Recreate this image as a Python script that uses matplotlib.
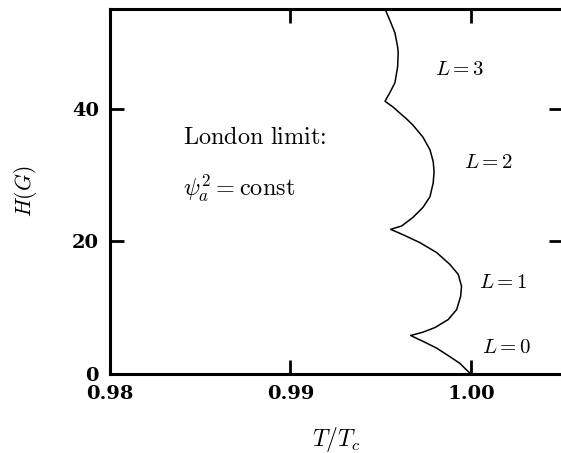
import matplotlib
matplotlib.use("Agg")
import matplotlib.pyplot as plt

plt.rcParams['mathtext.fontset'] = 'cm'

# Phase boundary T/Tc vs H, top to bottom
T_L3 = [0.99524, 0.99551, 0.99579, 0.99594, 0.99597, 0.99594, 0.99579, 0.99551, 0.99524]
H_L3 = [55.0, 53.3, 51.4, 49.3, 48.4, 46.3, 43.9, 42.4, 41.1]
T_L2 = [0.99570, 0.99607, 0.99645, 0.99679, 0.99734, 0.99773, 0.99791, 0.99796,
        0.99791, 0.99773, 0.99734, 0.99679, 0.99616, 0.99555]
H_L2 = [40.2, 39.3, 38.4, 37.5, 35.7, 33.8, 32.0, 30.5,
        28.8, 26.7, 25.1, 23.6, 22.3, 21.8]
T_L1 = [0.99623, 0.99717, 0.99810, 0.99884, 0.99930, 0.99948, 0.99943, 0.99921,
        0.99874, 0.99801, 0.99734, 0.99666]
H_L1 = [21.0, 19.8, 18.3, 16.5, 15.0, 13.2, 11.7, 9.7,
        8.2, 7.0, 6.3, 5.8]
T_L0 = [0.99736, 0.99810, 0.99884, 0.99939, 0.99976, 1.00000]
H_L0 = [4.9, 3.9, 2.6, 1.6, 0.6, 0.0]

x_ticks = [0.98, 0.99, 1.00]
x_ticklabels = ['0.98', '0.99', '1.00']
y_ticks = [0, 20, 40]
y_ticklabels = ['0', '20', '40']

labels = ['$L=3$', '$L=2$', '$L=1$', '$L=0$']
label_T = [0.99936, 1.0010, 1.00177, 1.0020]
label_H = [45.9, 31.9, 13.8, 4.1]

T_all = T_L3 + T_L2 + T_L1 + T_L0
H_all = H_L3 + H_L2 + H_L1 + H_L0

fig = plt.figure(figsize=(5.61, 4.53), dpi=100)
ax = fig.add_axes([0.196, 0.1744, 0.8075, 0.8057])
ax.plot(T_all, H_all, color='black', lw=1.1)

ax.set_xlim(0.98, 1.0051)
ax.set_ylim(0, 55)

tick_font = dict(family='DejaVu Serif', weight='bold', size=14)
ax.set_xticks(x_ticks)
ax.set_xticklabels(x_ticklabels, **tick_font)
ax.set_yticks(y_ticks)
ax.set_yticklabels(y_ticklabels, **tick_font)
ax.tick_params(direction='in', length=10, width=2, top=True, right=True, pad=8)
for sp in ax.spines.values():
    sp.set_linewidth(2.2)

ax.set_xlabel(r'$T/T_c$', fontsize=17, labelpad=16)
ax.set_ylabel(r'$H(G)$', fontsize=15.5, labelpad=24)

for lab, t, h in zip(labels, label_T, label_H):
    ax.text(t, h, lab, fontsize=15, ha='center', va='center')

ax.text(0.98405, 34.6, r'$\mathrm{London\ limit}\hspace{-0.22}:$', fontsize=17.5,
        ha='left', va='baseline')
ax.text(0.98405, 26.8, r'$\psi_a^2=\mathrm{const}$', fontsize=17.5, ha='left', va='baseline')

fig.savefig('out.png', dpi=100)
